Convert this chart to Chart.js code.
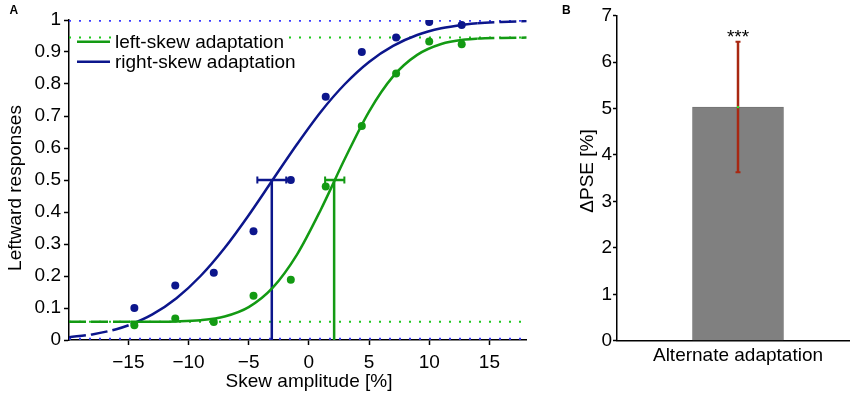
<!DOCTYPE html>
<html>
<head>
<meta charset="utf-8">
<script src="https://cdn.jsdelivr.net/npm/chart.js@4.4.1/dist/chart.umd.min.js"></script>
<style>
  html, body { margin: 0; padding: 0; background: #fff; width: 850px; height: 393px; overflow: hidden; position: relative; }
  canvas { position: absolute; top: 0; }
  #cA { left: 0; }
  #cB { left: 560px; }
</style>
</head>
<body>
<canvas id="cA" width="540" height="393"></canvas>
<canvas id="cB" width="300" height="393"></canvas>
<script>
// ---------------- DATA ----------------
// Panel A
const xTicksA = [-15, -10, -5, 0, 5, 10, 15];
const yTicksA = [0, 0.1, 0.2, 0.3, 0.4, 0.5, 0.6, 0.7, 0.8, 0.9, 1];
const seriesNames = ['left-skew adaptation', 'right-skew adaptation'];
const skewLevels = [-14.5, -11.1, -7.9, -4.6, -1.5, 1.4, 4.4, 7.25, 10.0, 12.7];
const leftSkewResp = [0.046, 0.067, 0.056, 0.138, 0.188, 0.48, 0.669, 0.833, 0.933, 0.924];
const rightSkewResp = [0.10, 0.17, 0.21, 0.34, 0.50, 0.76, 0.90, 0.945, 0.994, 0.984];
const fitX = [-19.93, -18, -16, -14.8, -13, -11, -9, -7, -5, -3, -1, 1, 3, 5, 7, 9, 11, 13, 14, 16, 18.1];
const leftSkewFit = [0.057, 0.057, 0.057, 0.057, 0.0572, 0.0582, 0.0619, 0.0735, 0.1028, 0.1636, 0.266, 0.408, 0.567, 0.714, 0.824, 0.891, 0.925, 0.939, 0.9418, 0.944, 0.945];
const rightSkewFit = [0.0087, 0.0175, 0.0338, 0.0486, 0.080, 0.1306, 0.200, 0.2875, 0.390, 0.5007, 0.611, 0.7135, 0.800, 0.869, 0.919, 0.953, 0.974, 0.986, 0.990, 0.994, 0.9965];
const fitSolidRange = [-14.8, 14];           // fitted curve is solid inside, dashed outside
const leftSkewBounds = [0.057, 0.945];      // dotted asymptote lines
const rightSkewBounds = [0.004, 0.998];
const pseValues = [2.1, -3.08];             // [left-skew, right-skew]
const pseLow = [1.35, -4.28];
const pseHigh = [2.95, -1.88];
const pseLevel = 0.5;
// Panel B
const bCategories = ['Alternate adaptation'];
const bValues = [5.03];
const bErrLow = [3.63];
const bErrHigh = [6.44];
const bTicks = [0, 1, 2, 3, 4, 5, 6, 7];
const bSignificance = ['***'];

// ---------------- STYLE ----------------
const FONT = '"Liberation Sans", Arial, Helvetica, sans-serif';
const GREEN = '#139a13';
const BLUE = '#0c168c';
const GREEN_DOT = '#1ec81e';
const BLUE_DOT = '#3c3cff';
const xMinA = -19.93, xMaxA = 18.1;

const pts = (xs, ys) => xs.map((x, i) => ({ x: x, y: ys[i] }));
const span = (y) => [{ x: xMinA, y: y }, { x: xMaxA, y: y }];

function fitDataset(ys, color) {
  return {
    type: 'line', data: pts(fitX, ys), borderColor: color, borderWidth: 2.5,
    pointRadius: 0, cubicInterpolationMode: 'monotone', fill: false, order: 2,
    segment: {
      borderDash: ctx => (ctx.p0.parsed.x < fitSolidRange[0] - 1e-9 || ctx.p1.parsed.x > fitSolidRange[1] + 1e-9) ? [17, 5] : []
    }
  };
}
function dottedDataset(y, color) {
  return { type: 'line', data: span(y), borderColor: color, borderWidth: 2, borderDash: [2, 8],
           pointRadius: 0, fill: false, order: 5 };
}
function pseLineDataset(x, color) {
  return { type: 'line', data: [{ x: x, y: 0 }, { x: x, y: pseLevel }], borderColor: color, borderWidth: 2.5,
           pointRadius: 0, fill: false, order: 3 };
}
function scatterDataset(ys, color) {
  return { type: 'scatter', data: pts(skewLevels, ys), backgroundColor: color, borderColor: color,
           pointRadius: 4, borderWidth: 0, order: 0 };
}

const panelAPlugin = {
  id: 'panelA',
  beforeDatasetsDraw(chart) {
    const { ctx, scales: { x, y } } = chart;
    const colors = [GREEN, BLUE];
    ctx.save();
    for (let i = 0; i < pseValues.length; i++) {
      const yp = y.getPixelForValue(pseLevel);
      const x0 = x.getPixelForValue(pseLow[i]);
      const x1 = x.getPixelForValue(pseHigh[i]);
      ctx.strokeStyle = colors[i];
      ctx.lineWidth = 2.5;
      ctx.beginPath(); ctx.moveTo(x0, yp); ctx.lineTo(x1, yp); ctx.stroke();
      ctx.lineWidth = 2;
      ctx.beginPath();
      ctx.moveTo(x0, yp - 3.5); ctx.lineTo(x0, yp + 3.5);
      ctx.moveTo(x1, yp - 3.5); ctx.lineTo(x1, yp + 3.5);
      ctx.stroke();
    }
    ctx.restore();
  },
  afterDatasetsDraw(chart) {
    const { ctx } = chart;
    ctx.save();
    // legend
    ctx.fillStyle = '#fff';
    ctx.fillRect(113, 30, 176, 42);
    const legendColors = [GREEN, BLUE];
    const rows = [41.7, 61.7];
    ctx.font = '19px ' + FONT;
    ctx.textBaseline = 'middle';
    ctx.textAlign = 'left';
    for (let i = 0; i < seriesNames.length; i++) {
      ctx.strokeStyle = legendColors[i];
      ctx.lineWidth = 2.5;
      ctx.beginPath(); ctx.moveTo(77, rows[i]); ctx.lineTo(110, rows[i]); ctx.stroke();
      ctx.fillStyle = '#000';
      ctx.fillText(seriesNames[i], 115, rows[i] + 1);
    }
    // axis titles
    ctx.fillStyle = '#000';
    ctx.textBaseline = 'alphabetic';
    ctx.textAlign = 'center';
    ctx.fillText('Skew amplitude [%]', 309, 386.5);
    ctx.save();
    ctx.translate(20.7, 188);
    ctx.rotate(-Math.PI / 2);
    ctx.fillText('Leftward responses', 0, 0);
    ctx.restore();
    // panel label
    ctx.font = 'bold 12px ' + FONT;
    ctx.textAlign = 'left';
    ctx.fillText('A', 9.5, 13.5);
    ctx.restore();
  }
};

new Chart(document.getElementById('cA'), {
  type: 'scatter',
  data: {
    datasets: [
      scatterDataset(leftSkewResp, GREEN),
      scatterDataset(rightSkewResp, BLUE),
      fitDataset(leftSkewFit, GREEN),
      fitDataset(rightSkewFit, BLUE),
      pseLineDataset(pseValues[0], GREEN),
      pseLineDataset(pseValues[1], BLUE),
      dottedDataset(leftSkewBounds[0], GREEN_DOT),
      dottedDataset(leftSkewBounds[1], GREEN_DOT),
      dottedDataset(rightSkewBounds[0], BLUE_DOT),
      dottedDataset(rightSkewBounds[1], BLUE_DOT)
    ]
  },
  options: {
    responsive: false, animation: false, devicePixelRatio: 1,
    layout: { padding: { left: 0, right: 13.3, top: 20, bottom: 0 } },
    plugins: { legend: { display: false }, tooltip: { enabled: false } },
    scales: {
      x: {
        type: 'linear', min: xMinA, max: xMaxA,
        afterFit: s => { s.height = 53; },
        afterBuildTicks: s => { s.ticks = xTicksA.map(v => ({ value: v })); },
        grid: { drawOnChartArea: false, drawTicks: true, tickLength: 5, tickColor: '#000', tickWidth: 1.5 },
        border: { color: '#000', width: 1.5 },
        ticks: { color: '#000', autoSkip: false, maxRotation: 0, padding: 6, font: { size: 19, family: FONT },
                 callback: v => v < 0 ? '\u2212' + Math.abs(v) : String(v) }
      },
      y: {
        type: 'linear', min: 0, max: 1,
        afterFit: s => { s.width = 69; },
        afterBuildTicks: s => { s.ticks = yTicksA.map(v => ({ value: v })); },
        grid: { drawOnChartArea: false, drawTicks: true, tickLength: 5, tickColor: '#000', tickWidth: 1.5 },
        border: { color: '#000', width: 1.5 },
        ticks: { color: '#000', autoSkip: false, padding: 3, font: { size: 19, family: FONT },
                 callback: v => String(Math.round(v * 10) / 10) }
      }
    }
  },
  plugins: [panelAPlugin]
});

// ---------------- PANEL B ----------------
const panelBPlugin = {
  id: 'panelB',
  afterDatasetsDraw(chart) {
    const { ctx, scales: { x, y } } = chart;
    ctx.save();
    for (let i = 0; i < bValues.length; i++) {
      const xc = x.getPixelForValue(i);
      const yLo = y.getPixelForValue(bErrLow[i]);
      const yHi = y.getPixelForValue(bErrHigh[i]);
      ctx.strokeStyle = '#a82812';
      ctx.lineWidth = 2.5;
      ctx.beginPath(); ctx.moveTo(xc, yLo); ctx.lineTo(xc, yHi); ctx.stroke();
      ctx.lineWidth = 2;
      ctx.beginPath();
      ctx.moveTo(xc - 2.5, yLo); ctx.lineTo(xc + 2.5, yLo);
      ctx.moveTo(xc - 2.5, yHi); ctx.lineTo(xc + 2.5, yHi);
      ctx.stroke();
      ctx.fillStyle = '#22ee22';
      ctx.fillRect(xc - 1, y.getPixelForValue(bValues[i]) - 1, 2, 2);
      ctx.fillStyle = '#000';
      ctx.font = '19px ' + FONT;
      ctx.textAlign = 'center';
      ctx.textBaseline = 'alphabetic';
      ctx.fillText(bSignificance[i], xc, yHi + 1);
    }
    ctx.fillStyle = '#000';
    ctx.font = '19px ' + FONT;
    ctx.textAlign = 'center';
    ctx.textBaseline = 'alphabetic';
    ctx.save();
    ctx.translate(33.3, 171);
    ctx.rotate(-Math.PI / 2);
    ctx.fillText('\u0394PSE [%]', 0, 0);
    ctx.restore();
    ctx.font = 'bold 12px ' + FONT;
    ctx.textAlign = 'left';
    ctx.fillText('B', 2, 13.5);
    ctx.restore();
  }
};

new Chart(document.getElementById('cB'), {
  type: 'bar',
  data: {
    labels: bCategories,
    datasets: [{ data: bValues, backgroundColor: '#808080', borderColor: '#737373', borderWidth: 1,
                 borderSkipped: 'start', barThickness: 91 }]
  },
  options: {
    responsive: false, animation: false, devicePixelRatio: 1,
    layout: { padding: { left: 0, right: 1, top: 15.7, bottom: 0 } },
    plugins: { legend: { display: false }, tooltip: { enabled: false } },
    scales: {
      x: {
        type: 'category', offset: true,
        afterFit: s => { s.height = 52.3; },
        grid: { display: false, drawTicks: false },
        border: { display: true, color: '#000', width: 1.5 },
        ticks: { color: '#000', padding: 4, maxRotation: 0, font: { size: 19, family: FONT } }
      },
      y: {
        type: 'linear', min: 0, max: 7,
        afterFit: s => { s.width = 57; },
        afterBuildTicks: s => { s.ticks = bTicks.map(v => ({ value: v })); },
        grid: { drawOnChartArea: false, drawTicks: true, tickLength: 4, tickColor: '#000', tickWidth: 1.5 },
        border: { color: '#000', width: 1.5 },
        ticks: { color: '#000', autoSkip: false, padding: 1, font: { size: 19, family: FONT } }
      }
    }
  },
  plugins: [panelBPlugin]
});
</script>
</body>
</html>
